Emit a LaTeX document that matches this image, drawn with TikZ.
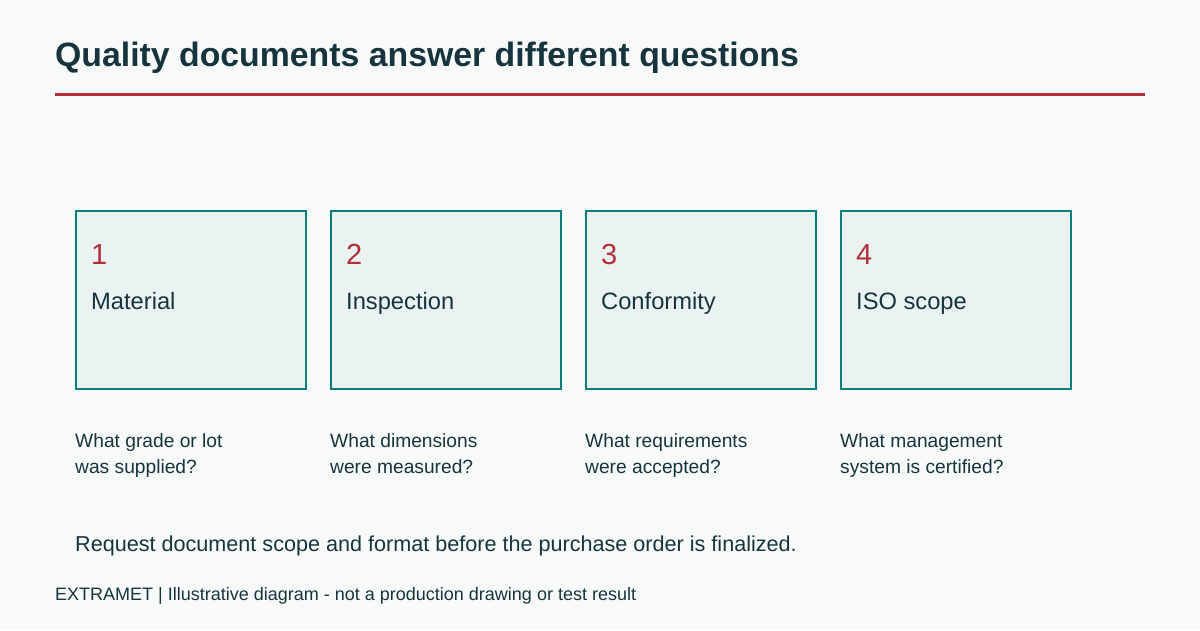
\documentclass[tikz,border=0pt]{standalone}
\usepackage{fontspec}
\setmainfont{Liberation Sans}
\definecolor{bg}{HTML}{F8FAFA}
\definecolor{ink}{HTML}{17343D}
\definecolor{accent}{HTML}{B0303A}
\definecolor{teal}{HTML}{077D7D}
\definecolor{cardfill}{HTML}{EAF2F2}
\tikzset{
  card/.style={draw=teal, fill=cardfill, line width=2pt, minimum width=230pt, minimum height=178pt, anchor=north west, inner sep=0pt, outer sep=0pt},
  num/.style={anchor=base west, text=accent, font=\fontsize{29}{32}\selectfont, inner sep=0pt},
  head/.style={anchor=base west, text=ink, font=\fontsize{23.7}{26}\selectfont, inner sep=0pt},
  ask/.style={anchor=base west, text=ink, font=\fontsize{19.2}{26}\selectfont, inner sep=0pt, align=left}
}
\begin{document}
\begin{tikzpicture}[x=1pt,y=-1pt]
  \fill[bg] (0,0) rectangle (1200,630);
  \useasboundingbox (0,0) rectangle (1200,630);
  \node (title) [anchor=base west, inner sep=0pt, text=ink, font=\bfseries\fontsize{33.8}{38}\selectfont] at (55,66) {Quality documents answer different questions};
  \draw[accent, line width=3pt] (55,94.5) -- (1145,94.5);
  % the four cards
  \node (mat) [card] at (76,211) {};
  \node (insp) [card] at (331,211) {};
  \node (conf) [card] at (586,211) {};
  \node (iso) [card] at (841,211) {};
  \node (n1) [num] at (91,264) {1};
  \node (n2) [num] at (346,264) {2};
  \node (n3) [num] at (601,264) {3};
  \node (n4) [num] at (856,264) {4};
  \node (h1) [head] at (91,309) {Material};
  \node (h2) [head] at (346,309) {Inspection};
  \node (h3) [head] at (601,309) {Conformity};
  \node (h4) [head] at (856,309) {ISO scope};
  % questions below (base = last line)
  \node (q1) [ask] at (75,473) {What grade or lot\\was supplied?};
  \node (q2) [ask] at (330,473) {What dimensions\\were measured?};
  \node (q3) [ask] at (585,473) {What requirements\\were accepted?};
  \node (q4) [ask] at (840,473) {What management\\system is certified?};
  \node (note) [anchor=base west, inner sep=0pt, text=ink, font=\fontsize{21.6}{24}\selectfont] at (75,551) {Request document scope and format before the purchase order is finalized.};
  \node (foot) [anchor=base west, inner sep=0pt, text=ink, font=\fontsize{18}{20}\selectfont] at (55,600) {EXTRAMET | Illustrative diagram - not a production drawing or test result};
\end{tikzpicture}
\end{document}
